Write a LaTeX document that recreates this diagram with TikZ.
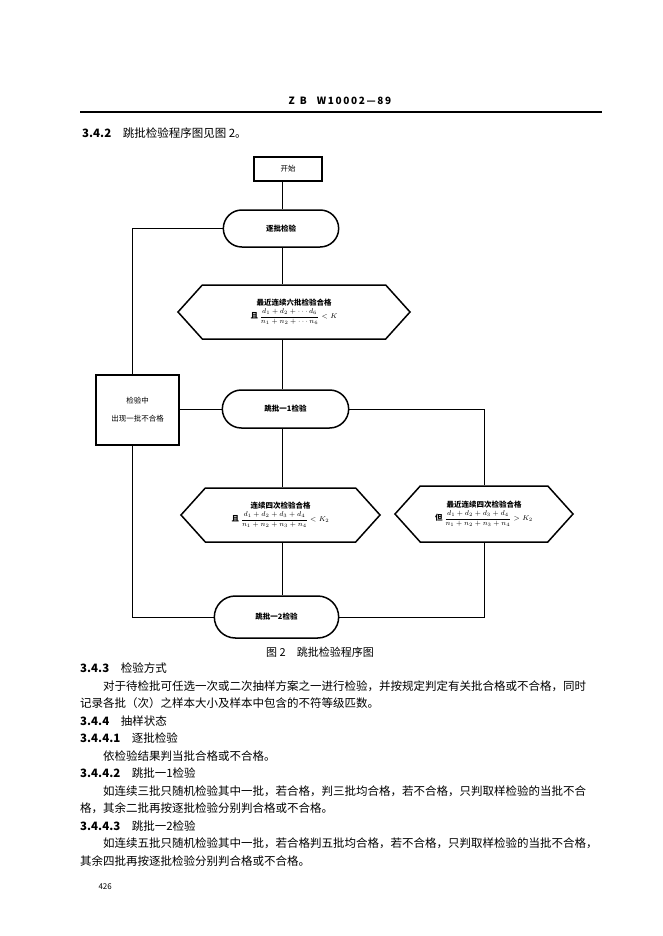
\documentclass[tikz,border=0pt]{standalone}
\usepackage{amsmath}
\usepackage{fontspec}
\setmainfont{Noto Sans CJK SC}
\usetikzlibrary{shapes.misc,shapes.symbols}

\begin{document}
\begin{tikzpicture}[x=1pt,y=-1pt,
  box/.style={draw,line width=1.5pt,align=center,font=\fontsize{7.5}{9}\selectfont},
  pill/.style={draw,rounded rectangle,line width=1.5pt,font=\fontsize{7.5}{9}\bfseries},
  hexa/.style={draw,signal,signal to=west and east,signal pointer angle=96,line width=1.5pt,align=center,font=\fontsize{7.5}{9}\bfseries},
  link/.style={line width=0.7pt},
  body/.style={anchor=west,inner sep=0pt,font=\fontsize{11.5}{14}\selectfont}]
  \useasboundingbox (0,0) rectangle (662,936);
  \node[font=\fontsize{10}{12}\bfseries] (head) at (340,101) {Z\enspace B\quad W\,1\,0\,0\,0\,2\,—\,8\,9};
  \draw[line width=1.3pt] (80,112) -- (602,112);
  \node[body] (s342) at (82,133) {\textbf{3.4.2}\hspace{1em}跳批检验程序图见图 2。};

  \node[box,minimum width=68,minimum height=24] (begin) at (288,169) {开始};
  \node[pill,minimum width=122,minimum height=37] (zhupi) at (281,228.5) {逐批检验};
  \node[hexa,minimum width=232,minimum height=54] (liupi) at (294,312)
    {最近连续六批检验合格\\[1pt]且\ $\dfrac{d_1+d_2+\cdots d_6}{n_1+n_2+\cdots n_6}<K$};
  \node[pill,minimum width=133,minimum height=38] (tiaoyi) at (285.5,409) {跳批一1检验};
  \node[box,minimum width=83,minimum height=70] (buhege) at (137.5,410) {检验中\\[9pt]出现一批不合格};
  \node[hexa,minimum width=199,minimum height=54] (sipi) at (280.5,515)
    {连续四次检验合格\\[1pt]且\ $\dfrac{d_1+d_2+d_3+d_4}{n_1+n_2+n_3+n_4}<K_2$};
  \node[hexa,minimum width=178,minimum height=56] (zuijin) at (484,514)
    {最近连续四次检验合格\\[1pt]但\ $\dfrac{d_1+d_2+d_3+d_4}{n_1+n_2+n_3+n_4}>K_2$};
  \node[pill,minimum width=131,minimum height=42] (tiaoer) at (276.5,617) {跳批一2检验};

  \coordinate (spine) at (282,0);
  \draw[link] (begin.south -| spine) -- (zhupi.north -| spine);
  \draw[link] (zhupi.south -| spine) -- (liupi.north -| spine);
  \draw[link] (liupi.south -| spine) -- (tiaoyi.north -| spine);
  \draw[link] (tiaoyi.south -| spine) -- (sipi.north -| spine);
  \draw[link] (sipi.south -| spine) -- (tiaoer.north -| spine);
  \draw[link] (tiaoyi.east) -| (zuijin.north);
  \draw[link] (zuijin.south) |- (tiaoer.east);
  \draw[link] (tiaoyi.west) -- (tiaoyi.west -| buhege.east);
  \draw[link] ([xshift=-5pt]buhege.north) |- (zhupi.west);
  \draw[link] ([xshift=-5pt]buhege.south) |- (tiaoer.west);

  \node[font=\fontsize{11}{13}\selectfont] (caption) at (320,652) {图 2\quad 跳批检验程序图};

  \node[body] (s343) at (80,668) {\textbf{3.4.3}\hspace{1em}检验方式};
  \node[body] (p1a) at (103,686) {对于待检批可任选一次或二次抽样方案之一进行检验，并按规定判定有关批合格或不合格，同时};
  \node[body] (p1b) at (80,703) {记录各批（次）之样本大小及样本中包含的不符等级匹数。};
  \node[body] (s344) at (80,721) {\textbf{3.4.4}\hspace{1em}抽样状态};
  \node[body] (s3441) at (80,738) {\textbf{3.4.4.1}\hspace{1em}逐批检验};
  \node[body] (p2) at (103,756) {依检验结果判当批合格或不合格。};
  \node[body] (s3442) at (80,773) {\textbf{3.4.4.2}\hspace{1em}跳批一1检验};
  \node[body] (p3a) at (103,791) {如连续三批只随机检验其中一批，若合格，判三批均合格，若不合格，只判取样检验的当批不合};
  \node[body] (p3b) at (80,808) {格，其余二批再按逐批检验分别判合格或不合格。};
  \node[body] (s3443) at (80,826) {\textbf{3.4.4.3}\hspace{1em}跳批一2检验};
  \node[body] (p4a) at (103,843) {如连续五批只随机检验其中一批，若合格判五批均合格，若不合格，只判取样检验的当批不合格，};
  \node[body] (p4b) at (80,861) {其余四批再按逐批检验分别判合格或不合格。};
  \node[anchor=west,font=\fontsize{8}{10}\selectfont] (page) at (95,887) {426};
\end{tikzpicture}
\end{document}
